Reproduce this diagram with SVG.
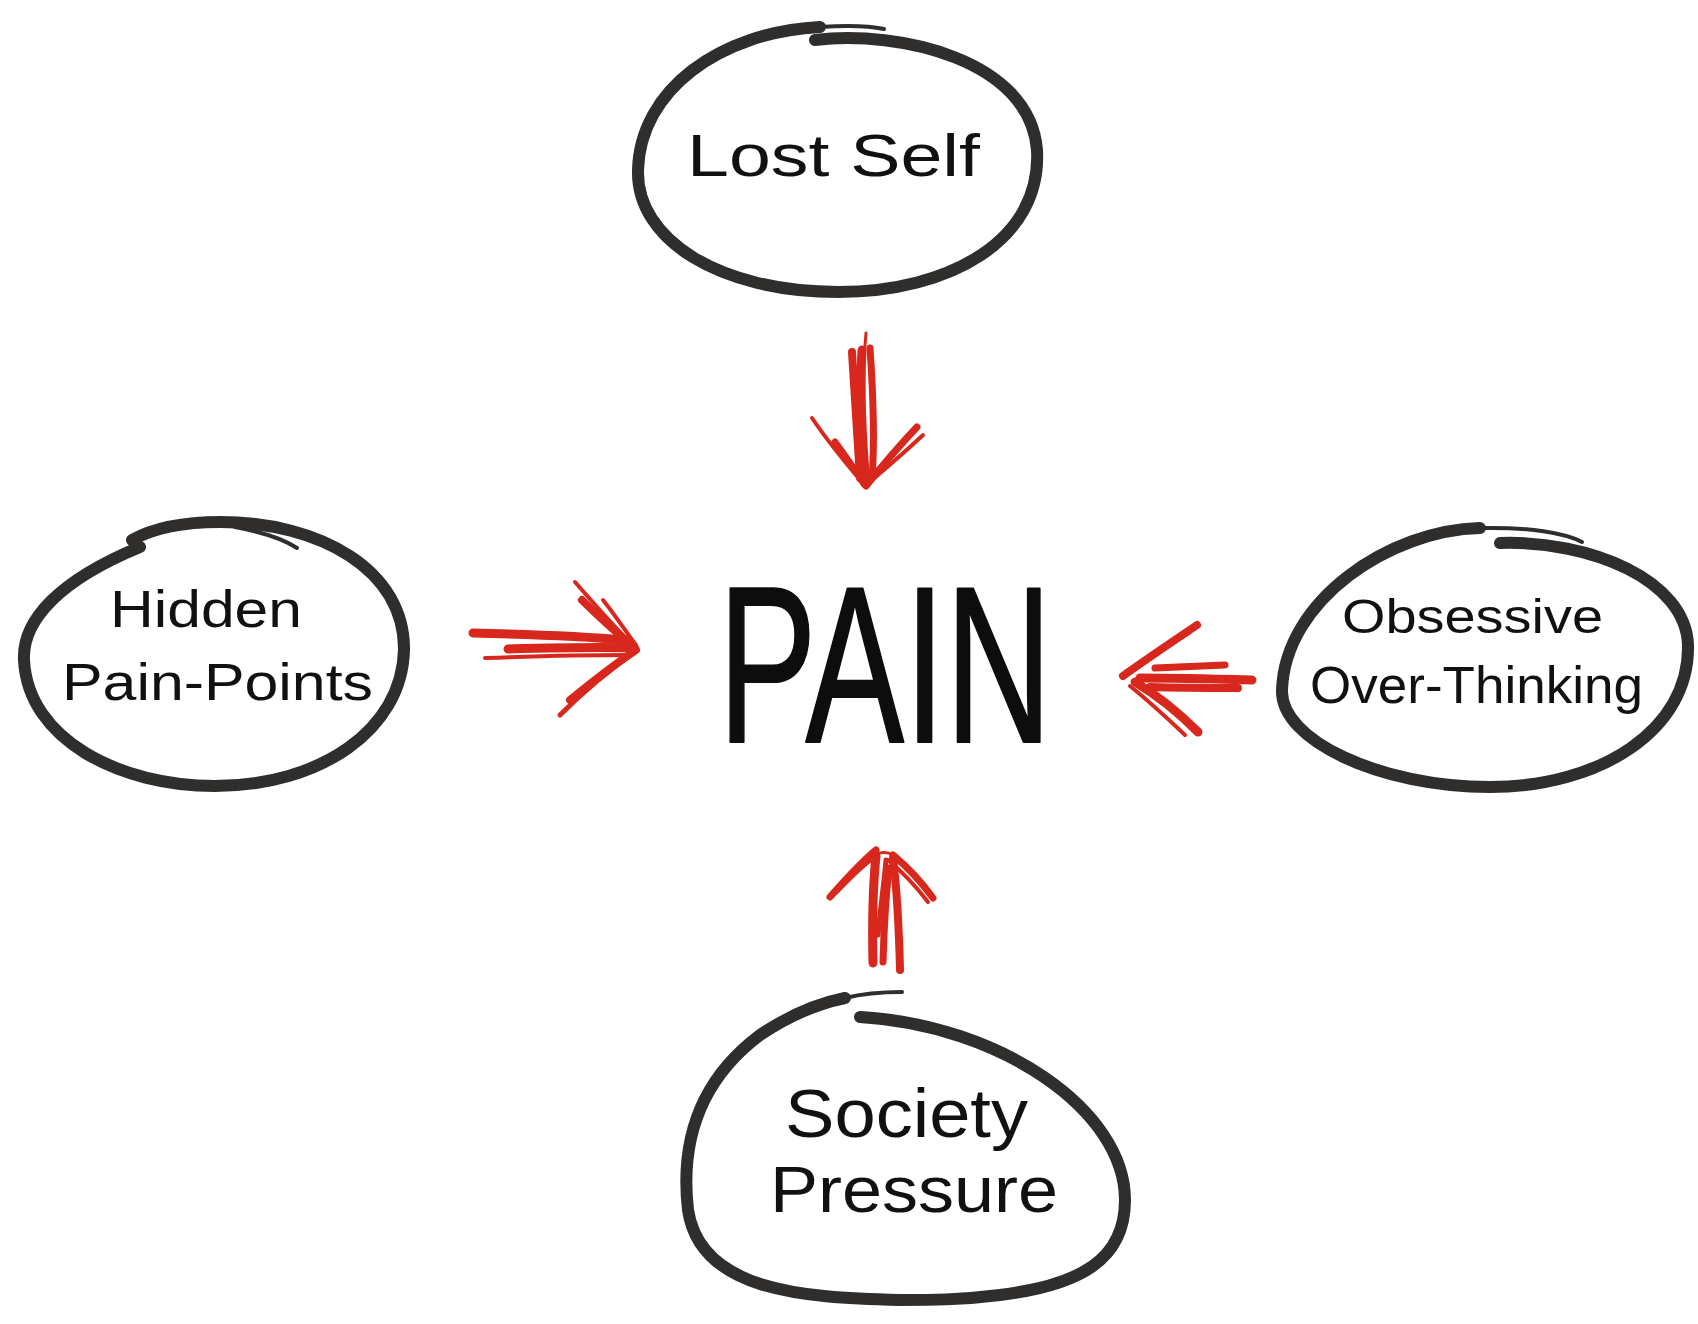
<svg xmlns="http://www.w3.org/2000/svg" width="1698" height="1324" viewBox="0 0 1698 1324">
<style>
.ring{fill:none;stroke:#2f2e2c;stroke-width:12;stroke-linecap:round;stroke-linejoin:round}
.tail{fill:none;stroke:#2f2e2c;stroke-width:4;stroke-linecap:round}
.lbl{font-family:"Liberation Sans","DejaVu Sans",sans-serif;fill:#111;text-anchor:start}
.r{fill:none;stroke:#d8271c;stroke-linecap:round;stroke-linejoin:round}
.pain{font-family:"Liberation Sans","DejaVu Sans",sans-serif;fill:#0d0d0d;stroke:#0d0d0d;stroke-width:2;stroke-linejoin:round}
</style>
<rect width="1698" height="1324" fill="#ffffff"/>
<g id="node-lost-self">
<path class="ring" d="M815 40 C900 30,1030 60,1037 150 C1042 240,950 292,838 292 C720 292,636 240,638 170 C640 90,720 32,820 27"/>
<path class="tail" d="M820 27 C850 25,870 26,884 29"/>
<text class="lbl" x="687" y="176" font-size="60" textLength="293" lengthAdjust="spacingAndGlyphs">Lost Self</text>
</g>
<g id="node-hidden">
<path class="ring" d="M140 547 C60 580,22 620,24 660 C28 740,120 786,215 786 C320 786,402 730,404 650 C405 570,320 522,220 522 C180 522,150 530,132 540"/>
<path class="tail" d="M235 527 C262 532,285 540,297 548"/>
<text class="lbl" x="110" y="627" font-size="52" textLength="192" lengthAdjust="spacingAndGlyphs">Hidden</text>
<text class="lbl" x="62" y="700" font-size="52" textLength="311" lengthAdjust="spacingAndGlyphs">Pain-Points</text>
</g>
<g id="node-obsessive">
<path class="ring" d="M1500 543 C1590 540,1686 580,1688 645 C1690 730,1600 787,1490 787 C1380 787,1280 740,1282 690 C1285 600,1390 530,1480 528"/>
<path class="tail" d="M1480 528 C1530 527,1565 533,1582 542"/>
<text class="lbl" x="1342" y="633" font-size="48" textLength="261" lengthAdjust="spacingAndGlyphs">Obsessive</text>
<text class="lbl" x="1310" y="703" font-size="52" textLength="333" lengthAdjust="spacingAndGlyphs">Over-Thinking</text>
</g>
<g id="node-society">
<path class="ring" d="M860 1017 C1000 1025,1125 1110,1125 1200 C1125 1260,1080 1285,1000 1295 C960 1300,930 1300,900 1300 C800 1298,700 1290,688 1210 C680 1140,700 1080,760 1035 C790 1015,820 1003,845 998"/>
<path class="tail" d="M845 998 C865 993,885 992,902 992"/>
<text class="lbl" x="785" y="1137" font-size="68" textLength="243" lengthAdjust="spacingAndGlyphs">Society</text>
<text class="lbl" x="770" y="1212" font-size="64" textLength="288" lengthAdjust="spacingAndGlyphs">Pressure</text>
</g>
<g id="node-pain">
<text class="pain" x="718" y="742" font-size="222" textLength="334" lengthAdjust="spacingAndGlyphs">PAIN</text>
</g>
<g id="connectors">
<g id="arrow-down">
<path class="r" stroke-width="9" d="M862 350 C860 390,862 440,866 484"/>
<path class="r" stroke-width="8" d="M852 352 C855 400,858 450,860 478"/>
<path class="r" stroke-width="7" d="M870 348 C873 392,875 440,872 478"/>
<path class="r" stroke-width="3" d="M866 333 L864 358"/>
<path class="r" stroke-width="4" d="M812 418 C830 445,850 468,866 487"/>
<path class="r" stroke-width="7" d="M835 442 C848 460,858 474,864 484"/>
<path class="r" stroke-width="7" d="M917 427 C900 445,882 466,866 486"/>
<path class="r" stroke-width="4" d="M923 435 C905 452,886 468,872 480"/>
</g>
<g id="arrow-right">
<path class="r" stroke-width="9" d="M473 633 C520 634,580 636,627 640"/>
<path class="r" stroke-width="9" d="M508 649 C550 648,600 647,630 648"/>
<path class="r" stroke-width="4" d="M485 658 C540 656,590 655,628 655"/>
<path class="r" stroke-width="4" d="M575 582 C595 605,615 628,634 646"/>
<path class="r" stroke-width="8" d="M582 600 C600 618,618 634,635 648"/>
<path class="r" stroke-width="4" d="M603 600 C615 615,626 632,636 645"/>
<path class="r" stroke-width="5" d="M560 715 C585 690,612 668,635 652"/>
<path class="r" stroke-width="8" d="M570 700 C592 682,615 664,636 650"/>
</g>
<g id="arrow-left">
<path class="r" stroke-width="9" d="M1252 680 C1215 679,1175 678,1140 678"/>
<path class="r" stroke-width="7" d="M1225 665 C1200 666,1180 667,1155 668"/>
<path class="r" stroke-width="8" d="M1238 688 C1210 688,1180 688,1150 687"/>
<path class="r" stroke-width="8" d="M1197 625 C1172 642,1145 660,1123 676"/>
<path class="r" stroke-width="4" d="M1190 632 C1165 648,1140 664,1125 672"/>
<path class="r" stroke-width="9" d="M1198 732 C1178 712,1155 694,1135 682"/>
<path class="r" stroke-width="4" d="M1185 735 C1165 716,1145 698,1130 686"/>
</g>
<g id="arrow-up">
<path class="r" stroke-width="9" d="M873 963 C872 920,873 885,876 856"/>
<path class="r" stroke-width="7" d="M883 962 C884 925,886 895,889 868"/>
<path class="r" stroke-width="8" d="M900 970 C899 930,897 890,893 858"/>
<path class="r" stroke-width="5" d="M878 935 C880 910,884 885,886 860"/>
<path class="r" stroke-width="7" d="M830 897 C845 880,860 863,876 850"/>
<path class="r" stroke-width="4" d="M836 893 C850 878,864 864,878 855"/>
<path class="r" stroke-width="7" d="M933 898 C920 880,905 865,893 855"/>
<path class="r" stroke-width="4" d="M928 902 C915 885,900 870,888 860"/>
<path class="r" stroke-width="3" d="M876 854 C882 852,888 852,893 855"/>
</g>
</g>
</svg>
